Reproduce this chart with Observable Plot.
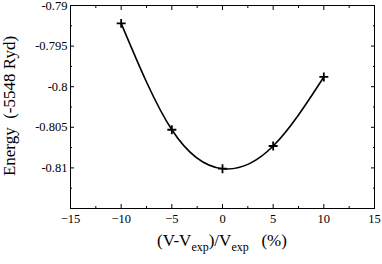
<!DOCTYPE html>
<html><head><meta charset="utf-8">
<script src="https://cdn.jsdelivr.net/npm/d3@7"></script>
<script src="https://cdn.jsdelivr.net/npm/@observablehq/plot@0.6"></script>
<style>body{margin:0;background:#fff} svg text{font-family:"Liberation Serif",serif !important}</style>
</head><body><div id="chart"></div>
<script>
const volumes = [-10, -5, 0, 5, 10];
const energies = [-0.7922, -0.8053, -0.8101, -0.8073, -0.7988];
const xTicks = [-15, -10, -5, 0, 5, 10, 15];
const xMinor = [-12.5, -7.5, -2.5, 2.5, 7.5, 12.5];
const yTicks = [-0.79, -0.795, -0.8, -0.805, -0.81];
const yMinor = [-0.7925, -0.7975, -0.8025, -0.8075, -0.8125];

const data = volumes.map((v, i) => ({v, e: energies[i]}));
const font = "'Liberation Serif', serif";

const plot = Plot.plot({
  width: 382, height: 264,
  marginLeft: 70, marginRight: 8, marginTop: 5, marginBottom: 56,
  style: {fontFamily: font, fontSize: "12.5px", background: "#fff", color: "#000"},
  x: {domain: [-15, 15]},
  y: {domain: [-0.815, -0.79]},
  marks: [
    Plot.frame({stroke: "#000", strokeWidth: 1}),
    Plot.axisX(xTicks, {anchor: "bottom", tickSize: 0, tickPadding: 6, label: null,
      tickFormat: d => d < 0 ? "\u2212" + Math.abs(d) : String(d), fontSize: 12.5, fontFamily: font}),
    Plot.axisX(xTicks, {anchor: "bottom", tickSize: -4, text: null, label: null}),
    Plot.axisX(xTicks, {anchor: "top", tickSize: -4, text: null, label: null}),
    Plot.axisX(xMinor, {anchor: "bottom", tickSize: -2, text: null, label: null}),
    Plot.axisX(xMinor, {anchor: "top", tickSize: -2, text: null, label: null}),
    Plot.axisY(yTicks, {anchor: "left", tickSize: 0, tickPadding: 3, label: null,
      tickFormat: d => String(d), fontSize: 12.5, fontFamily: font}),
    Plot.axisY(yTicks, {anchor: "left", tickSize: -4, text: null, label: null}),
    Plot.axisY(yTicks, {anchor: "right", tickSize: -4, text: null, label: null}),
    Plot.axisY(yMinor, {anchor: "left", tickSize: -2, text: null, label: null}),
    Plot.axisY(yMinor, {anchor: "right", tickSize: -2, text: null, label: null}),
    Plot.line(data, {x: "v", y: "e", curve: "natural", stroke: "#000", strokeWidth: 1.6}),
    Plot.dot(data, {x: "v", y: "e", symbol: "plus", r: 3, stroke: "#000", strokeWidth: 1.8})
  ]
});
document.getElementById("chart").appendChild(plot);

const svg = d3.select(plot);
const yl = svg.append("text")
  .attr("transform", "translate(15,106) rotate(-90)")
  .attr("text-anchor", "middle")
  .attr("font-family", font).attr("font-size", 17).attr("fill", "#000");
yl.text("Energy\u00a0\u00a0(-5548 Ryd)");
const xl = svg.append("text")
  .attr("x", 222).attr("y", 246)
  .attr("text-anchor", "middle")
  .attr("font-family", font).attr("font-size", 17).attr("fill", "#000");
xl.append("tspan").text("(V-V");
xl.append("tspan").attr("dy", 5).attr("font-size", 12).text("exp");
xl.append("tspan").attr("dy", -5).text(")/V");
xl.append("tspan").attr("dy", 5).attr("font-size", 12).text("exp");
xl.append("tspan").attr("dy", -5).text("\u00a0\u00a0\u00a0(%)");
</script>
</body></html>
